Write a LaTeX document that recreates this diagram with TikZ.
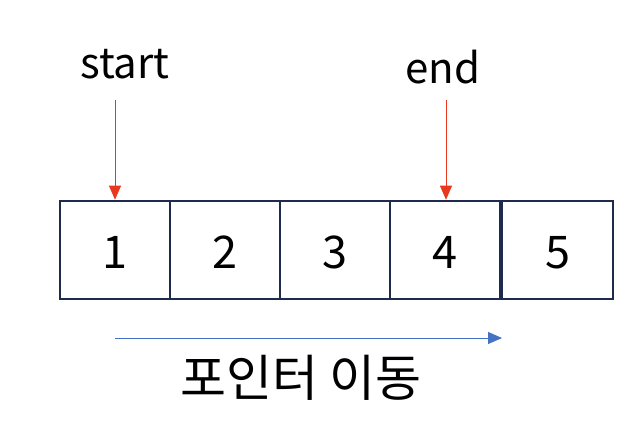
\documentclass[tikz,border=0pt]{standalone}
\usepackage{fontspec}
\setmainfont{Noto Sans CJK KR}
\usetikzlibrary{arrows.meta}
\definecolor{boxnavy}{HTML}{1F2B4D}
\definecolor{ptrred}{HTML}{E8391E}
\definecolor{movblue}{HTML}{4472C4}
\begin{document}
\begin{tikzpicture}[x=1pt,y=-1pt,
  cell/.style={draw=boxnavy,line width=2.6pt,minimum height=98pt,inner sep=0pt},
  digit/.style={anchor=base,inner sep=0pt,font=\fontsize{45}{45}\selectfont},
  ptr/.style={draw=ptrred,line width=0.9pt,-{Triangle[width=12pt,length=14pt]},color=ptrred},
  lbl/.style={font=\fontsize{42}{42}\selectfont,anchor=base,inner sep=0pt}]
\path[use as bounding box] (0,0) rectangle (642,444);
\node[cell,minimum width=110pt] (b1) at (115,250) {};
\node[cell,minimum width=110pt] (b2) at (225,250) {};
\node[cell,minimum width=110pt] (b3) at (335,250) {};
\node[cell,minimum width=110pt] (b4) at (445,250) {};
\node[cell,minimum width=111pt] (b5) at (557.5,250) {};
\node[digit] (n1) at (115,268) {1};
\node[digit] (n2) at (225,268) {2};
\node[digit] (n3) at (335,268) {3};
\node[digit] (n4) at (445,268) {4};
\node[digit] (n5) at (557.5,268) {5};
\node[lbl] (st) at (125,78) {start};
\node[lbl] (en) at (443,83) {end};
\coordinate (sa) at (115,100);
\coordinate (ea) at (446,100);
\draw[ptr] (sa) -- (sa |- b1.north);
\draw[ptr] (ea) -- (ea |- b4.north);
\coordinate (ma) at (115,338);
\coordinate (mb) at (502,338);
\draw[draw=movblue,color=movblue,line width=1pt,-{Triangle[width=12pt,length=14pt]}] (ma) -- (mb);
\node[font=\fontsize{50}{50}\selectfont,inner sep=0pt] (mv) at (301,378) {포인터 이동};
\end{tikzpicture}
\end{document}
